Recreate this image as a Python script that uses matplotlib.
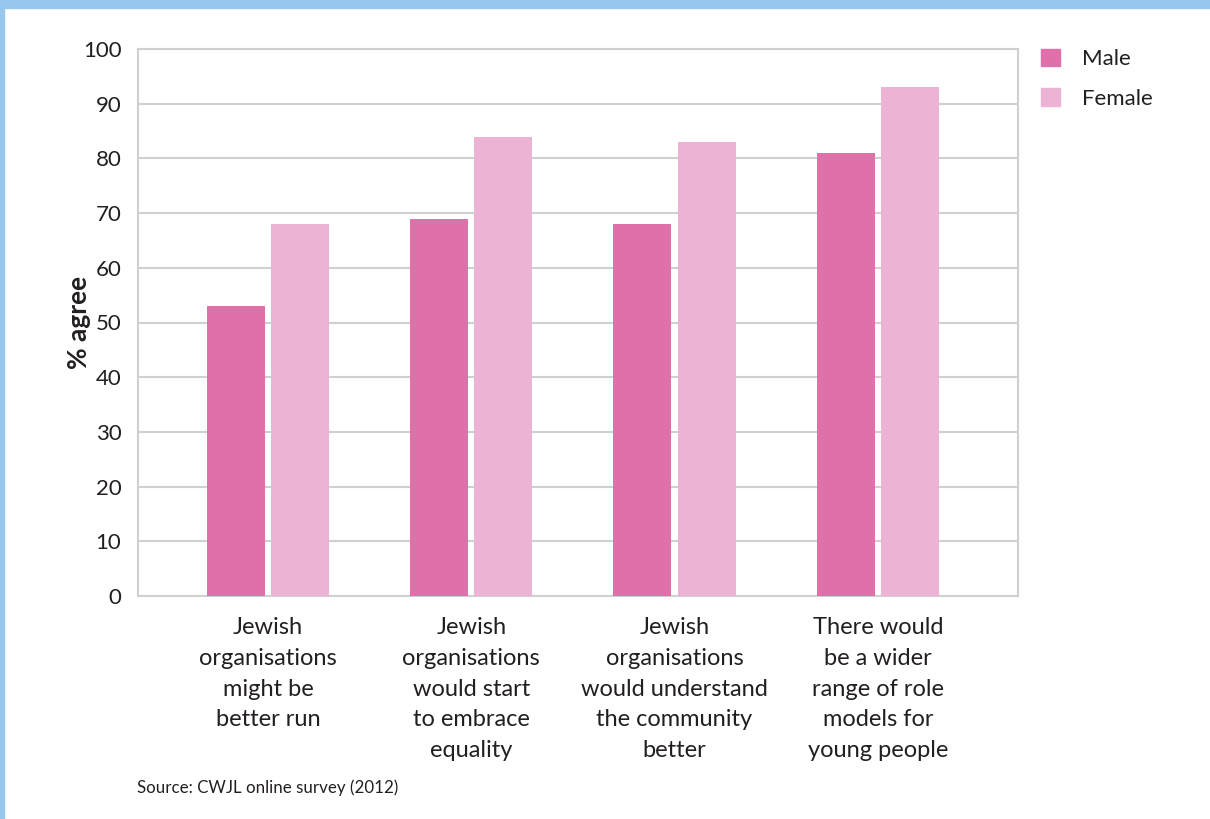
import matplotlib.pyplot as plt
import numpy as np
from matplotlib.patches import Patch, Rectangle

# data
categories = ["Jewish\norganisations\nmight be\nbetter run",
              "Jewish\norganisations\nwould start\nto embrace\nequality",
              "Jewish\norganisations\nwould understand\nthe community\nbetter",
              "There would\nbe a wider\nrange of role\nmodels for\nyoung people"]
male = [53, 69, 68, 81]
female = [68, 84, 83, 93]
yticks = [0, 10, 20, 30, 40, 50, 60, 70, 80, 90, 100]

male_col = "#E070AA"
female_col = "#EDB3D4"
grid_col = "#D0D0D0"
text_col = "#231F20"

plt.rcParams['font.family'] = ['Lato', 'DejaVu Sans']

fig = plt.figure(figsize=(12.1, 8.19), dpi=100)
ax = fig.add_axes([138/1210, 1-596/819, 880/1210, 547/819])

x = np.arange(len(categories))
w = 0.286
off = 0.158
ax.bar(x - off, male, width=w, color=male_col, zorder=3, label="Male")
ax.bar(x + off, female, width=w, color=female_col, zorder=3, label="Female")

ax.set_xlim(-0.64, 3.69)
ax.set_ylim(0, 100)
ax.set_yticks(yticks)
ax.set_yticklabels([str(t) for t in yticks], fontsize=16, color=text_col)
ax.set_xticks(x)
ax.set_xticklabels(categories, fontsize=17, color=text_col, linespacing=1.58, va='top')
ax.tick_params(axis='both', length=0)
ax.tick_params(axis='y', pad=12)
ax.tick_params(axis='x', pad=15)
ax.grid(axis='y', color=grid_col, linewidth=1.5, zorder=0)
for s in ax.spines.values():
    s.set_color(grid_col)
    s.set_linewidth(1.5)

ax.set_ylabel("% agree", fontsize=19, fontweight='bold', color=text_col, labelpad=-6)

handles = [Patch(color=male_col), Patch(color=female_col)]
ax.legend(handles, ["Male", "Female"], loc='upper left', bbox_to_anchor=(1.003, 1.037),
          frameon=False, fontsize=16, handlelength=0.85, handleheight=0.85,
          handletextpad=1.0, labelspacing=0.85, labelcolor=text_col)

fig.text(137/1210, 1-788/819, "Source: CWJL online survey (2012)", fontsize=12.2,
         color=text_col, va='center', ha='left')

# light blue frame at the top and left edge
fig.patches.append(Rectangle((0, 1-8/819), 1, 8/819, transform=fig.transFigure,
                             color="#95C8EC", zorder=0))
fig.patches.append(Rectangle((0, 0), 4/1210, 1, transform=fig.transFigure,
                             color="#95C8EC", zorder=0))

plt.savefig('out.png', dpi=100)
plt.close()
